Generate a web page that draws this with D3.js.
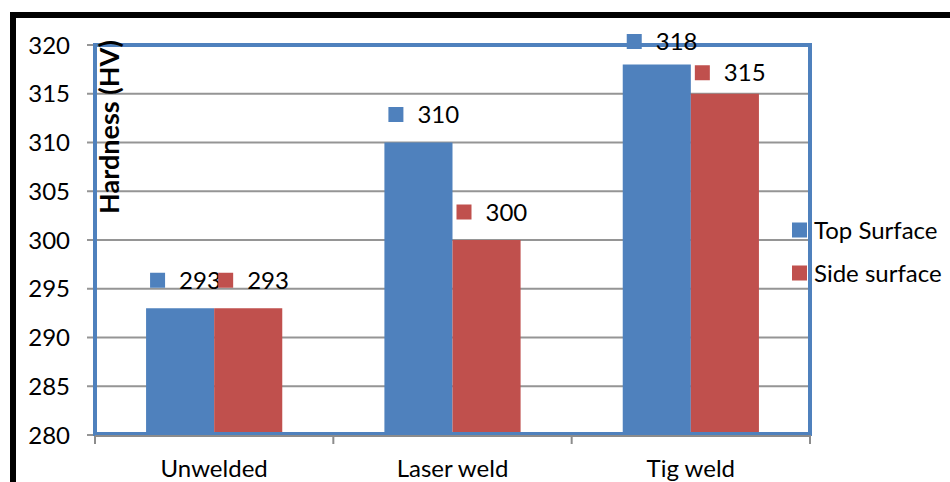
<!DOCTYPE html>
<html>
<head>
<meta charset="utf-8">
<script src="https://cdn.jsdelivr.net/npm/d3@7"></script>
<style>
  html, body { margin: 0; padding: 0; background: #fff; }
  svg { display: block; }
  text { font-family: Lato, "Open Sans", sans-serif; fill: #000; }
</style>
</head>
<body>
<svg id="chart" width="950" height="482"></svg>
<script>
// Hardness measurements (HV)
const categories = ["Unwelded", "Laser weld", "Tig weld"];
const seriesNames = ["Top Surface", "Side surface"];
const topSurface = [293, 310, 318];
const sideSurface = [293, 300, 315];
const yTicks = [280, 285, 290, 295, 300, 305, 310, 315, 320];

const colors = ["#4F81BD", "#C0504D"];
const series = [topSurface, sideSurface];

// Manual vertical nudges of the value labels above each bar (px above bar top)
const labelLift = [[28, 28, 23], [28, 28, 21]];

const svg = d3.select("#chart");
const plot = { left: 95, right: 810, top: 45, bottom: 435 };

// Outer black frame (continues past the visible area)
svg.append("rect")
  .attr("x", 13).attr("y", 15)
  .attr("width", 1000).attr("height", 600)
  .attr("fill", "none").attr("stroke", "#000").attr("stroke-width", 6);

const x0 = d3.scaleBand().domain(categories).range([plot.left, plot.right]).paddingInner(0).paddingOuter(0);
const x1 = d3.scaleBand().domain(seriesNames).range([0, x0.bandwidth()]).paddingInner(0).paddingOuter(0.75);
const y = d3.scaleLinear().domain([280, 320]).range([plot.bottom, plot.top]);

// Gridlines
svg.append("g").selectAll("line").data(yTicks).join("line")
  .attr("x1", plot.left - 8).attr("x2", plot.right)
  .attr("y1", d => y(d)).attr("y2", d => y(d))
  .attr("stroke", "#959595").attr("stroke-width", 2);

// Y tick labels
svg.append("g").selectAll("text").data(yTicks).join("text")
  .attr("x", 70).attr("y", d => y(d))
  .attr("dy", "0.36em")
  .attr("text-anchor", "end")
  .style("font-size", "24px")
  .text(d => d);

// Bars
const groups = svg.append("g").selectAll("g").data(categories).join("g")
  .attr("transform", c => `translate(${x0(c)},0)`);
groups.selectAll("rect")
  .data((c, i) => seriesNames.map((s, j) => ({ s, j, v: series[j][i], i })))
  .join("rect")
  .attr("x", d => x1(d.s))
  .attr("y", d => y(d.v))
  .attr("width", x1.bandwidth())
  .attr("height", d => y(280) - y(d.v))
  .attr("fill", d => colors[d.j]);

// Plot area border
svg.append("rect")
  .attr("x", plot.left).attr("y", plot.top)
  .attr("width", plot.right - plot.left).attr("height", plot.bottom - plot.top - 1)
  .attr("fill", "none").attr("stroke", "#4F81BD").attr("stroke-width", 4);

// Category axis
const xAxisY = plot.bottom + 1;
svg.append("line")
  .attr("x1", plot.left).attr("x2", plot.right + 1)
  .attr("y1", xAxisY).attr("y2", xAxisY)
  .attr("stroke", "#8C8C8C").attr("stroke-width", 2);
const boundaries = categories.map(c => x0(c)).concat([x0(categories[categories.length - 1]) + x0.bandwidth()]);
svg.append("g").selectAll("line").data(boundaries).join("line")
  .attr("x1", d => d).attr("x2", d => d)
  .attr("y1", xAxisY).attr("y2", xAxisY + 8)
  .attr("stroke", "#8C8C8C").attr("stroke-width", 2);
svg.append("g").selectAll("text").data(categories).join("text")
  .attr("x", c => x0(c) + x0.bandwidth() / 2)
  .attr("y", 477)
  .attr("text-anchor", "middle")
  .style("font-size", "24px")
  .text(c => c);

// Value labels with legend keys
const labels = svg.append("g");
categories.forEach((c, i) => {
  seriesNames.forEach((s, j) => {
    const v = series[j][i];
    const bx = x0(c) + x1(s);
    const cy = y(v) - labelLift[j][i];
    labels.append("rect")
      .attr("x", bx + 4).attr("y", cy - 7.5)
      .attr("width", 15).attr("height", 15)
      .attr("fill", colors[j]);
    labels.append("text")
      .attr("x", bx + 33).attr("y", cy)
      .attr("dy", "0.36em")
      .style("font-size", "24px")
      .text(v);
  });
});

// Axis title
svg.append("text")
  .attr("transform", "translate(119,127) rotate(-90)")
  .attr("text-anchor", "middle")
  .style("font-size", "27px")
  .style("font-weight", "bold")
  .text("Hardness (HV)");

// Legend
const legend = svg.append("g");
seriesNames.forEach((s, j) => {
  const ly = 230 + j * 43;
  legend.append("rect")
    .attr("x", 792).attr("y", ly - 7.5)
    .attr("width", 15).attr("height", 15)
    .attr("fill", colors[j]);
  legend.append("text")
    .attr("x", 814).attr("y", ly)
    .attr("dy", "0.36em")
    .style("font-size", "24px")
    .text(s);
});
</script>
</body>
</html>
